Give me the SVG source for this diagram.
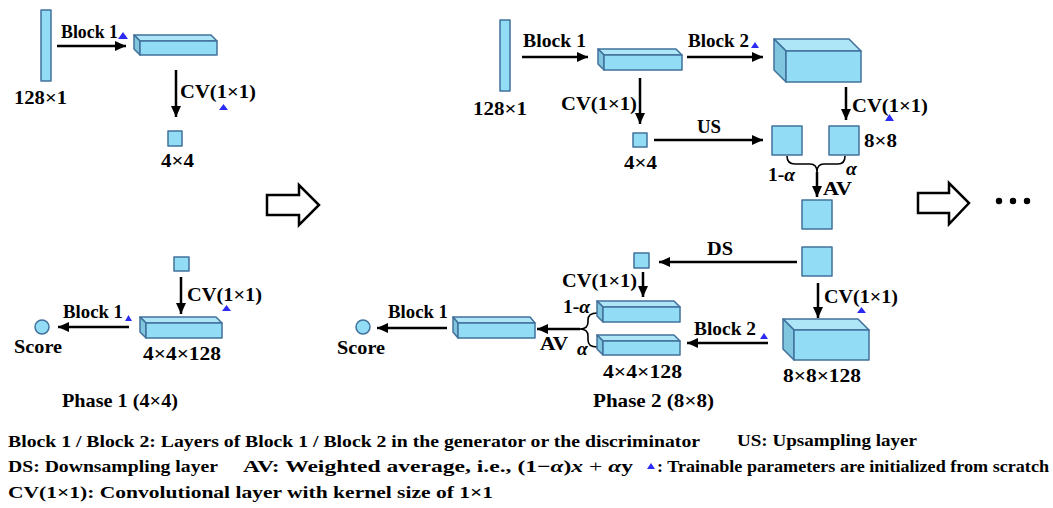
<svg xmlns="http://www.w3.org/2000/svg" width="1053" height="508" viewBox="0 0 1053 508">
<style>
.f{fill:#92DCF5;stroke:#41719C;stroke-width:1.5;stroke-linejoin:round}
.t{fill:#AEE6F8;stroke:#41719C;stroke-width:1.5;stroke-linejoin:round}
.s{fill:#80C6DE;stroke:#41719C;stroke-width:1.5;stroke-linejoin:round}
.tri{fill:#2B2BF5}
.a{stroke:#000;stroke-width:2.5;fill:none;marker-end:url(#ah)}
.br{stroke:#000;stroke-width:1.6;fill:none}
.hol{fill:#fff;stroke:#000;stroke-width:2.5;stroke-linejoin:miter}
text{font-family:"Liberation Serif","Times New Roman",serif;font-weight:bold;fill:#000}
.l{font-size:19.5px}
.g{font-size:17.5px}
.i{font-style:italic}
</style>
<defs>
<marker id="ah" markerUnits="userSpaceOnUse" markerWidth="11" markerHeight="10" refX="11" refY="5" orient="auto">
<path d="M0,0 L11,5 L0,10 z" fill="#000"/>
</marker>
</defs>

<g id="connectors">
<line class="a" x1="57" y1="46" x2="126" y2="46"/>
<line class="a" x1="176" y1="70" x2="176" y2="117"/>
<line class="a" x1="181" y1="277" x2="181" y2="314"/>
<line class="a" x1="129" y1="327" x2="58" y2="327"/>
<line class="a" x1="522" y1="57" x2="588" y2="57"/>
<line class="a" x1="687" y1="57" x2="763" y2="57"/>
<line class="a" x1="640" y1="78" x2="640" y2="124"/>
<line class="a" x1="654" y1="140" x2="763" y2="140"/>
<line class="a" x1="846" y1="87" x2="846" y2="120"/>
<line class="a" x1="817" y1="172" x2="817" y2="197"/>
<line class="a" x1="797" y1="262" x2="659" y2="262"/>
<line class="a" x1="643" y1="272" x2="643" y2="297"/>
<line class="a" x1="818" y1="283" x2="818" y2="318"/>
<line class="a" x1="768" y1="343" x2="687" y2="343"/>
<line class="a" x1="580" y1="329" x2="537" y2="329"/>
<line class="a" x1="447" y1="328" x2="377" y2="328"/>
<path class="br" d="M787,156 Q787,164 795,164 L810,164 Q817,164 817,172 Q817,164 824,164 L838,164 Q845,164 845,156"/>
<path class="br" d="M597,313 Q588,313 588,320 L588,322 Q588,329 580,329 Q588,329 588,336 L588,340 Q588,347 597,347"/>
</g>

<g id="phase1">
<g id="p1-bar"><rect class="f" x="41" y="10" width="10" height="71"/></g>
<g id="p1-box1">
<polygon class="t" points="134,35 211,35 217,41 140,41"/>
<polygon class="s" points="134,35 140,41 140,55 134,49"/>
<rect class="f" x="140" y="41" width="77" height="14"/>
</g>
<g id="p1-sq1"><rect class="f" x="168" y="131" width="14" height="15"/></g>
<g id="p1-sq2"><rect class="f" x="174" y="257" width="15" height="14"/></g>
<g id="p1-box2">
<polygon class="t" points="140,317 216,317 222,323 146,323"/>
<polygon class="s" points="140,317 146,323 146,338 140,332"/>
<rect class="f" x="146" y="323" width="76" height="15"/>
</g>
<g id="p1-score"><circle class="f" cx="42" cy="327" r="7"/></g>
<text class="l" x="61" y="38" textLength="57" lengthAdjust="spacingAndGlyphs">Block 1</text>
<text class="l" x="14" y="104" textLength="53" lengthAdjust="spacingAndGlyphs">128×1</text>
<text class="l" x="180" y="98" textLength="76" lengthAdjust="spacingAndGlyphs">CV(1×1)</text>
<text class="l" x="161" y="167" textLength="33" lengthAdjust="spacingAndGlyphs">4×4</text>
<text class="l" x="187" y="301" textLength="75" lengthAdjust="spacingAndGlyphs">CV(1×1)</text>
<text class="l" x="63" y="318" textLength="60" lengthAdjust="spacingAndGlyphs">Block 1</text>
<text class="l" x="143" y="360" textLength="78" lengthAdjust="spacingAndGlyphs">4×4×128</text>
<text class="l" x="14" y="353" textLength="48" lengthAdjust="spacingAndGlyphs">Score</text>
<text class="l" x="62" y="407" textLength="116" lengthAdjust="spacingAndGlyphs">Phase 1 (4×4)</text>
<polygon class="tri" points="118,39 123,32 128,39"/>
<polygon class="tri" points="219,110 223.5,104 228,110"/>
<polygon class="tri" points="222,311 226.5,305 231,311"/>
<polygon class="tri" points="125,321 128.5,315 132,321"/>
</g>

<g id="phase2">
<g id="p2-bar"><rect class="f" x="500" y="20" width="10" height="71"/></g>
<g id="p2-box1">
<polygon class="t" points="598,49 676,49 682,55 604,55"/>
<polygon class="s" points="598,49 604,55 604,70 598,64"/>
<rect class="f" x="604" y="55" width="78" height="15"/>
</g>
<g id="p2-box2">
<polygon class="t" points="774,39 849,39 861,51 786,51"/>
<polygon class="s" points="774,39 786,51 786,82 774,70"/>
<rect class="f" x="786" y="51" width="75" height="31"/>
</g>
<g id="p2-sq44"><rect class="f" x="633" y="133" width="14" height="14"/></g>
<g id="p2-sqL"><rect class="f" x="772" y="126" width="30" height="29"/></g>
<g id="p2-sqR"><rect class="f" x="829" y="126" width="30" height="29"/></g>
<g id="p2-sqAV"><rect class="f" x="802" y="200" width="30" height="29"/></g>
<g id="p2-sqDS"><rect class="f" x="802" y="247" width="30" height="29"/></g>
<g id="p2-sqDSout"><rect class="f" x="634" y="253" width="15" height="15"/></g>
<g id="p2-box3">
<polygon class="t" points="783,319 858,319 869,330 794,330"/>
<polygon class="s" points="783,319 794,330 794,360 783,349"/>
<rect class="f" x="794" y="330" width="75" height="30"/>
</g>
<g id="p2-box4">
<polygon class="t" points="597,301 674,301 680,307 603,307"/>
<polygon class="s" points="597,301 603,307 603,322 597,316"/>
<rect class="f" x="603" y="307" width="77" height="15"/>
</g>
<g id="p2-box5">
<polygon class="t" points="597,335 674,335 680,341 603,341"/>
<polygon class="s" points="597,335 603,341 603,355 597,349"/>
<rect class="f" x="603" y="341" width="77" height="14"/>
</g>
<g id="p2-box6">
<polygon class="t" points="453,317 530,317 535,323 458,323"/>
<polygon class="s" points="453,317 458,323 458,338 453,332"/>
<rect class="f" x="458" y="323" width="77" height="15"/>
</g>
<g id="p2-score"><circle class="f" cx="363" cy="327" r="7"/></g>
<text class="l" x="523" y="47" textLength="63" lengthAdjust="spacingAndGlyphs">Block 1</text>
<text class="l" x="473" y="115" textLength="54" lengthAdjust="spacingAndGlyphs">128×1</text>
<text class="l" x="688" y="47" textLength="61" lengthAdjust="spacingAndGlyphs">Block 2</text>
<text class="l" x="561" y="110" textLength="76" lengthAdjust="spacingAndGlyphs">CV(1×1)</text>
<text class="l" x="624" y="169" textLength="33" lengthAdjust="spacingAndGlyphs">4×4</text>
<text class="l" x="697" y="133" textLength="24" lengthAdjust="spacingAndGlyphs">US</text>
<text class="l" x="852" y="112" textLength="76" lengthAdjust="spacingAndGlyphs">CV(1×1)</text>
<text class="l" x="864" y="147" textLength="33" lengthAdjust="spacingAndGlyphs">8×8</text>
<text class="l" x="768" y="181">1-<tspan class="i">α</tspan></text>
<text class="l i" x="846" y="175">α</text>
<text class="l" x="823" y="195" textLength="29" lengthAdjust="spacingAndGlyphs">AV</text>
<text class="l" x="707" y="255" textLength="26" lengthAdjust="spacingAndGlyphs">DS</text>
<text class="l" x="562" y="287" textLength="75" lengthAdjust="spacingAndGlyphs">CV(1×1)</text>
<text class="l" x="563" y="313">1-<tspan class="i">α</tspan></text>
<text class="l i" x="577" y="355">α</text>
<text class="l" x="540" y="350" textLength="28" lengthAdjust="spacingAndGlyphs">AV</text>
<text class="l" x="824" y="303" textLength="74" lengthAdjust="spacingAndGlyphs">CV(1×1)</text>
<text class="l" x="694" y="335" textLength="62" lengthAdjust="spacingAndGlyphs">Block 2</text>
<text class="l" x="783" y="382" textLength="78" lengthAdjust="spacingAndGlyphs">8×8×128</text>
<text class="l" x="603" y="378" textLength="79" lengthAdjust="spacingAndGlyphs">4×4×128</text>
<text class="l" x="593" y="407" textLength="121" lengthAdjust="spacingAndGlyphs">Phase 2 (8×8)</text>
<text class="l" x="388" y="318" textLength="60" lengthAdjust="spacingAndGlyphs">Block 1</text>
<text class="l" x="337" y="354" textLength="48" lengthAdjust="spacingAndGlyphs">Score</text>
<polygon class="tri" points="751,48 755,42 759,48"/>
<polygon class="tri" points="885,121 889.5,114 894,121"/>
<polygon class="tri" points="857,313 861.5,307 866,313"/>
<polygon class="tri" points="760,339 764,333 768,339"/>
</g>

<g id="transitions">
<polygon class="hol" points="267,195 299,195 299,185 319,205 299,225 299,215 267,215"/>
<polygon class="hol" points="918,193 949,193 949,183 969,203 949,224 949,213 918,213"/>
<circle cx="999" cy="201" r="3.2" fill="#000"/>
<circle cx="1013" cy="201" r="3.2" fill="#000"/>
<circle cx="1027" cy="201" r="3.2" fill="#000"/>
</g>

<g id="legend">
<text class="g" x="8" y="447" textLength="692" lengthAdjust="spacingAndGlyphs">Block 1 / Block 2: Layers of Block 1 / Block 2 in the generator or the discriminator</text>
<text class="g" x="737" y="446" textLength="180" lengthAdjust="spacingAndGlyphs">US: Upsampling layer</text>
<text class="g" x="8" y="472" textLength="210" lengthAdjust="spacingAndGlyphs">DS: Downsampling layer</text>
<text class="g" x="243" y="472" textLength="390" lengthAdjust="spacingAndGlyphs">AV: Weighted average, i.e., (1−<tspan class="i">α</tspan>)<tspan class="i">x</tspan><tspan font-weight="normal"> + </tspan><tspan class="i">α</tspan>y</text>
<polygon class="tri" points="647,469 651,463 655,469"/>
<text class="g" x="657" y="472" textLength="392" lengthAdjust="spacingAndGlyphs">: Trainable parameters are initialized  from scratch</text>
<text class="g" x="8" y="498" textLength="485" lengthAdjust="spacingAndGlyphs">CV(1×1): Convolutional layer with kernel size of 1×1</text>
</g>
</svg>
